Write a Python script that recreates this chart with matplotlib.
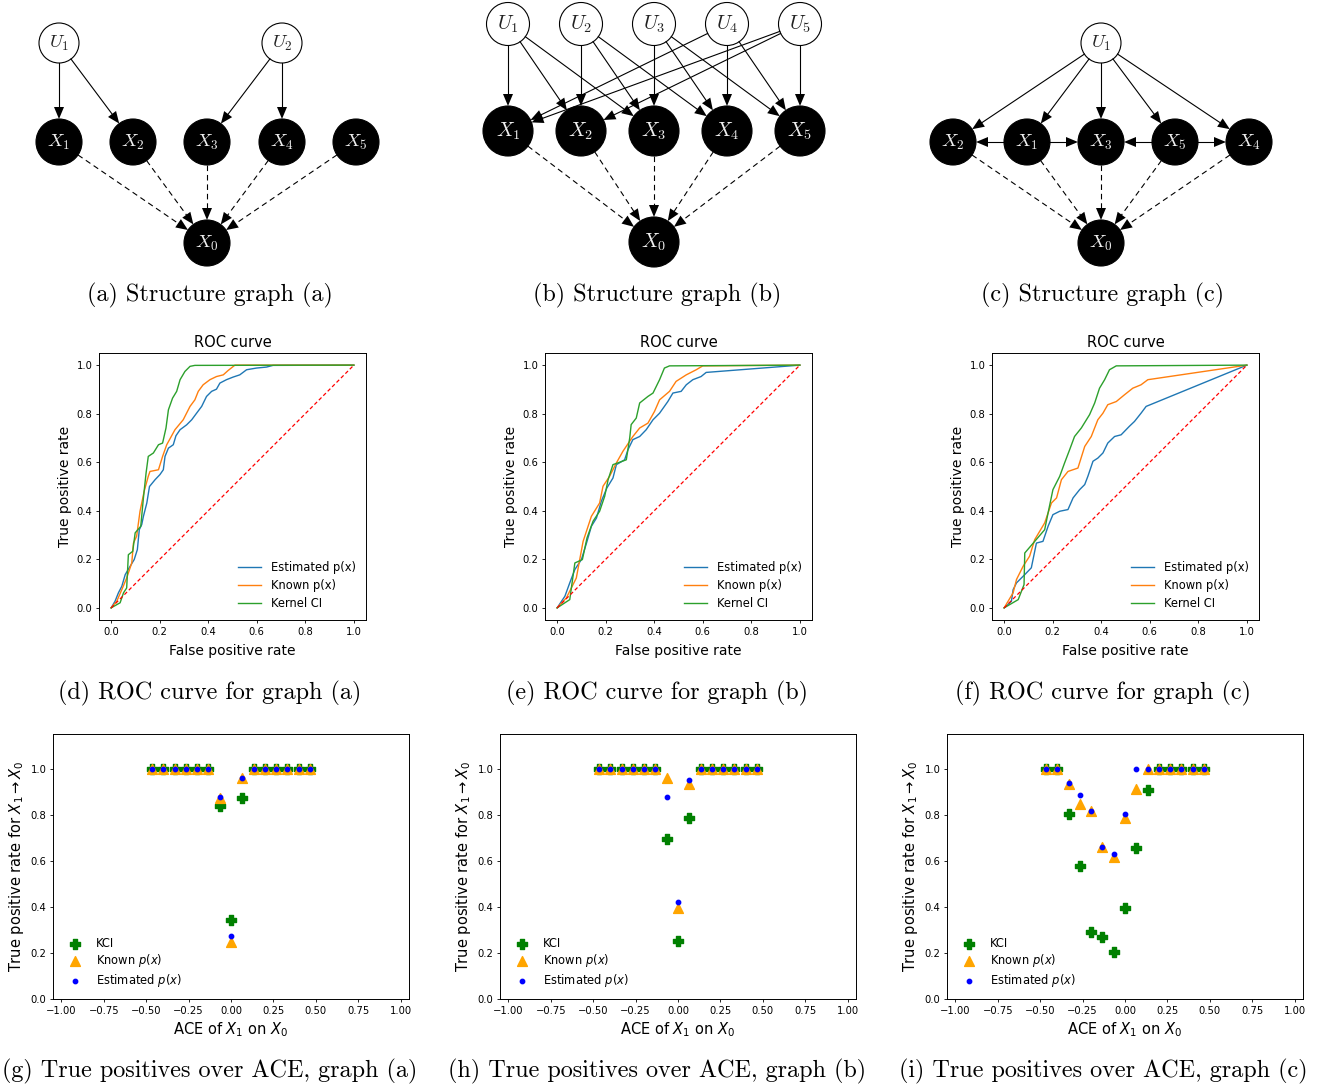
import matplotlib
matplotlib.use("Agg")
import matplotlib.pyplot as plt
import numpy as np
from matplotlib.patches import Circle, Polygon

W, H = 1322, 1086

# ---------------- structure graphs ----------------
graph_a_nodes = {"U1": (59, 43), "U2": (282, 43),
                 "X1": (59, 142), "X2": (133, 142), "X3": (207, 142),
                 "X4": (282, 142), "X5": (356, 142), "X0": (207, 243)}
graph_a_solid = [("U1", "X1"), ("U1", "X2"), ("U2", "X3"), ("U2", "X4")]
graph_a_dashed = [("X1", "X0"), ("X2", "X0"), ("X3", "X0"), ("X4", "X0"), ("X5", "X0")]

graph_b_nodes = {"U1": (508, 24), "U2": (581, 24), "U3": (654, 24), "U4": (727, 24), "U5": (800, 24),
                 "X1": (508, 131), "X2": (581, 131), "X3": (654, 131), "X4": (727, 131),
                 "X5": (800, 131), "X0": (654, 242)}
graph_b_solid = [("U1", "X1"), ("U1", "X2"), ("U1", "X3"),
                 ("U2", "X2"), ("U2", "X3"), ("U2", "X4"),
                 ("U3", "X3"), ("U3", "X4"), ("U3", "X5"),
                 ("U4", "X4"), ("U4", "X5"), ("U4", "X1"),
                 ("U5", "X5"), ("U5", "X1"), ("U5", "X2")]
graph_b_dashed = [("X1", "X0"), ("X2", "X0"), ("X3", "X0"), ("X4", "X0"), ("X5", "X0")]

graph_c_nodes = {"U1": (1101, 43),
                 "X2": (953, 142), "X1": (1027, 142), "X3": (1101, 142),
                 "X5": (1175, 142), "X4": (1249, 142), "X0": (1101, 243)}
graph_c_solid = [("U1", "X2"), ("U1", "X1"), ("U1", "X3"), ("U1", "X5"), ("U1", "X4"),
                 ("X1", "X2"), ("X1", "X3"), ("X5", "X3"), ("X5", "X4")]
graph_c_dashed = [("X2", "X0"), ("X1", "X0"), ("X3", "X0"), ("X5", "X0"), ("X4", "X0")]

# ---------------- ROC curves (fpr, tpr) ----------------
roc_a_est_fpr = [0, 0.016, 0.030, 0.044, 0.058, 0.078, 0.095, 0.108, 0.116, 0.126, 0.133, 0.147, 0.158,
                 0.181, 0.201, 0.215, 0.222, 0.236, 0.256, 0.267, 0.284, 0.311, 0.332, 0.352, 0.373,
                 0.393, 0.414, 0.434, 0.448, 0.475, 0.503, 0.530, 0.558, 0.599, 0.640, 0.667, 1.0]
roc_a_est_tpr = [0, 0.027, 0.062, 0.089, 0.137, 0.171, 0.199, 0.240, 0.322, 0.343, 0.377, 0.432, 0.500,
                 0.528, 0.549, 0.569, 0.624, 0.658, 0.672, 0.709, 0.734, 0.754, 0.775, 0.802, 0.830,
                 0.871, 0.892, 0.901, 0.926, 0.940, 0.951, 0.960, 0.981, 0.988, 0.992, 0.999, 1.0]
roc_a_known_fpr = [0, 0.023, 0.044, 0.064, 0.085, 0.092, 0.105, 0.119, 0.136, 0.153, 0.160, 0.195, 0.212,
                   0.229, 0.263, 0.297, 0.325, 0.345, 0.359, 0.379, 0.407, 0.434, 0.462, 0.482, 0.510, 1.0]
roc_a_known_tpr = [0, 0.027, 0.075, 0.123, 0.185, 0.267, 0.295, 0.398, 0.480, 0.542, 0.562, 0.569, 0.624,
                   0.672, 0.734, 0.775, 0.830, 0.857, 0.892, 0.919, 0.940, 0.953, 0.960, 0.978, 1.0, 1.0]
roc_a_kci_fpr = [0, 0.037, 0.051, 0.064, 0.071, 0.089, 0.099, 0.122, 0.133, 0.144, 0.153, 0.174, 0.195,
                 0.212, 0.226, 0.236, 0.253, 0.270, 0.284, 0.304, 0.325, 0.345, 1.0]
roc_a_kci_tpr = [0, 0.021, 0.062, 0.082, 0.219, 0.233, 0.309, 0.336, 0.453, 0.556, 0.624, 0.638, 0.672,
                 0.679, 0.741, 0.816, 0.864, 0.892, 0.940, 0.974, 0.995, 0.999, 1.0]

roc_b_est_fpr = [0, 0.032, 0.052, 0.073, 0.100, 0.121, 0.141, 0.162, 0.182, 0.205, 0.230, 0.244, 0.278,
                 0.292, 0.312, 0.340, 0.367, 0.395, 0.422, 0.456, 0.477, 0.511, 0.532, 0.559, 0.593, 0.614, 1.0]
roc_b_est_tpr = [0, 0.048, 0.103, 0.158, 0.199, 0.267, 0.336, 0.370, 0.439, 0.494, 0.535, 0.590, 0.610,
                 0.652, 0.693, 0.706, 0.734, 0.775, 0.802, 0.850, 0.885, 0.892, 0.919, 0.940, 0.953, 0.970, 1.0]
roc_b_known_fpr = [0, 0.038, 0.079, 0.107, 0.141, 0.175, 0.189, 0.216, 0.244, 0.271, 0.312, 0.340, 0.374,
                   0.401, 0.422, 0.463, 0.490, 0.532, 0.573, 0.600, 1.0]
roc_b_known_tpr = [0, 0.041, 0.123, 0.274, 0.377, 0.432, 0.501, 0.542, 0.597, 0.645, 0.706, 0.741, 0.761,
                   0.809, 0.857, 0.892, 0.933, 0.960, 0.981, 0.997, 1.0]
roc_b_kci_fpr = [0, 0.052, 0.073, 0.104, 0.123, 0.148, 0.175, 0.196, 0.210, 0.230, 0.285, 0.299, 0.305,
                 0.326, 0.340, 0.374, 0.395, 0.422, 0.442, 0.463, 1.0]
roc_b_kci_tpr = [0, 0.034, 0.185, 0.199, 0.288, 0.357, 0.398, 0.460, 0.528, 0.590, 0.610, 0.700, 0.755,
                 0.782, 0.844, 0.871, 0.885, 0.940, 0.988, 0.997, 1.0]

roc_c_est_fpr = [0, 0.030, 0.037, 0.051, 0.085, 0.112, 0.119, 0.133, 0.160, 0.181, 0.201, 0.229, 0.263,
                 0.284, 0.311, 0.332, 0.345, 0.366, 0.386, 0.407, 0.427, 0.455, 0.482, 0.516, 0.537,
                 0.564, 0.585, 1.0]
roc_c_est_tpr = [0, 0.027, 0.075, 0.103, 0.137, 0.165, 0.199, 0.267, 0.274, 0.336, 0.384, 0.398, 0.405,
                 0.453, 0.487, 0.508, 0.542, 0.604, 0.617, 0.638, 0.679, 0.706, 0.713, 0.748, 0.768,
                 0.802, 0.830, 1.0]
roc_c_known_fpr = [0, 0.037, 0.051, 0.078, 0.105, 0.126, 0.167, 0.195, 0.216, 0.236, 0.263, 0.304, 0.332,
                   0.359, 0.386, 0.407, 0.427, 0.462, 0.496, 0.530, 0.564, 0.592, 1.0]
roc_c_known_tpr = [0, 0.062, 0.117, 0.171, 0.213, 0.281, 0.350, 0.432, 0.453, 0.528, 0.562, 0.576, 0.665,
                   0.706, 0.775, 0.802, 0.837, 0.850, 0.878, 0.905, 0.919, 0.940, 1.0]
roc_c_kci_fpr = [0, 0.058, 0.082, 0.085, 0.126, 0.167, 0.181, 0.201, 0.229, 0.249, 0.270, 0.290, 0.318,
                 0.352, 0.373, 0.393, 0.414, 0.434, 0.462, 1.0]
roc_c_kci_tpr = [0, 0.034, 0.096, 0.226, 0.274, 0.322, 0.391, 0.487, 0.542, 0.597, 0.652, 0.706, 0.741,
                 0.796, 0.844, 0.905, 0.940, 0.981, 0.997, 1.0]

# ---------------- true positives over ACE ----------------
ace = [-0.467, -0.4, -0.333, -0.267, -0.2, -0.133, -0.067, 0.0, 0.067, 0.133, 0.2, 0.267, 0.333, 0.4, 0.467]

tp_a_kci = [1, 1, 1, 1, 1, 1, 0.838, 0.341, 0.871, 1, 1, 1, 1, 1, 1]
tp_a_known = [1, 1, 1, 1, 1, 1, 0.874, 0.246, 0.957, 1, 1, 1, 1, 1, 1]
tp_a_est = [1, 1, 1, 1, 1, 1, 0.878, 0.272, 0.958, 1, 1, 1, 1, 1, 1]

tp_b_kci = [1, 1, 1, 1, 1, 1, 0.694, 0.251, 0.784, 1, 1, 1, 1, 1, 1]
tp_b_known = [1, 1, 1, 1, 1, 1, 0.958, 0.396, 0.933, 1, 1, 1, 1, 1, 1]
tp_b_est = [1, 1, 1, 1, 1, 1, 0.878, 0.423, 0.951, 1, 1, 1, 1, 1, 1]

tp_c_kci = [1, 1, 0.801, 0.577, 0.291, 0.268, 0.204, 0.396, 0.654, 0.906, 1, 1, 1, 1, 1]
tp_c_known = [1, 1, 0.932, 0.846, 0.816, 0.658, 0.617, 0.787, 0.912, 1, 1, 1, 1, 1, 1]
tp_c_est = [1, 1, 0.936, 0.886, 0.816, 0.661, 0.630, 0.803, 1.0, 1, 1, 1, 1, 1, 1]

ace_ticks = [-1, -0.75, -0.5, -0.25, 0, 0.25, 0.5, 0.75, 1.0]
rate_ticks = [0, 0.2, 0.4, 0.6, 0.8, 1.0]

top_captions = ["(a) Structure graph (a)", "(b) Structure graph (b)", "(c) Structure graph (c)"]
mid_captions = ["(d) ROC curve for graph (a)", "(e) ROC curve for graph (b)", "(f) ROC curve for graph (c)"]
bot_captions = ["(g) True positives over ACE, graph (a)", "(h) True positives over ACE, graph (b)",
                "(i) True positives over ACE, graph (c)"]

fig = plt.figure(figsize=(W / 100, H / 100), dpi=100)
bg = fig.add_axes([0, 0, 1, 1], zorder=0)
bg.set_xlim(0, W)
bg.set_ylim(H, 0)
bg.axis("off")

HEAD_L, HEAD_W = 12, 10


def draw_edge(ax, p, q, r0, r1, dashed):
    p = np.array(p, float)
    q = np.array(q, float)
    d = (q - p) / np.hypot(*(q - p))
    n = np.array([-d[1], d[0]])
    start = p + d * r0
    tip = q - d * r1
    base = tip - d * HEAD_L
    ls = (0, (5, 3.5)) if dashed else "-"
    ax.plot([start[0], base[0] + d[0]], [start[1], base[1] + d[1]], color="k", lw=0.8, ls=ls)
    ax.add_patch(Polygon([tip, base + n * HEAD_W / 2, base - n * HEAD_W / 2], closed=True,
                         facecolor="k", edgecolor="none"))


def draw_graph(ax, nodes, solid, dashed, ru, rx, fs):
    def rad(name):
        return ru if name.startswith("U") else rx
    for a, b in solid:
        draw_edge(ax, nodes[a], nodes[b], rad(a), rad(b), False)
    for a, b in dashed:
        draw_edge(ax, nodes[a], nodes[b], rad(a), rad(b), True)
    for name, (x, y) in nodes.items():
        lab = r"$%s_%s$" % (name[0], name[1])
        if name.startswith("U"):
            ax.add_patch(Circle((x, y), ru, facecolor="white", edgecolor="k", lw=0.8))
            ax.text(x, y, lab, ha="center", va="center", fontsize=fs, color="#222222", math_fontfamily="cm")
        else:
            ax.add_patch(Circle((x, y), rx, facecolor="black", edgecolor="k", lw=0.8))
            ax.text(x, y, lab, ha="center", va="center", fontsize=fs, color="#eeeeee", math_fontfamily="cm")


draw_graph(bg, graph_a_nodes, graph_a_solid, graph_a_dashed, 20, 23, 13.5)
draw_graph(bg, graph_b_nodes, graph_b_solid, graph_b_dashed, 21.5, 25, 14.5)
draw_graph(bg, graph_c_nodes, graph_c_solid, graph_c_dashed, 20, 23, 13.5)

centers = [210, 657, 1103]
for cx, t1, t2, t3 in zip(centers, top_captions, mid_captions, bot_captions):
    bg.text(cx, 295, t1, ha="center", va="center", fontsize=17.4, family="cmr10")
    bg.text(cx, 693, t2, ha="center", va="center", fontsize=17.4, family="cmr10")
    bg.text(cx, 1071, t3, ha="center", va="center", fontsize=17.4, family="cmr10")


def px_axes(left, top, width, height):
    return fig.add_axes([left / W, 1 - (top + height) / H, width / W, height / H], zorder=2)


def style(ax):
    ax.tick_params(labelsize=7.2, length=2.4, width=0.6, pad=2.4)
    for s in ax.spines.values():
        s.set_linewidth(0.7)


roc_sets = [
    (roc_a_est_fpr, roc_a_est_tpr, roc_a_known_fpr, roc_a_known_tpr, roc_a_kci_fpr, roc_a_kci_tpr),
    (roc_b_est_fpr, roc_b_est_tpr, roc_b_known_fpr, roc_b_known_tpr, roc_b_kci_fpr, roc_b_kci_tpr),
    (roc_c_est_fpr, roc_c_est_tpr, roc_c_known_fpr, roc_c_known_tpr, roc_c_kci_fpr, roc_c_kci_tpr),
]
for left, (ef, et, kf, kt, cf, ct) in zip([99, 545, 992], roc_sets):
    ax = px_axes(left, 353, 267, 267)
    ax.plot(ef, et, color="tab:blue", lw=1.0, label="Estimated p(x)")
    ax.plot(kf, kt, color="tab:orange", lw=1.0, label="Known p(x)")
    ax.plot(cf, ct, color="tab:green", lw=1.0, label="Kernel CI")
    ax.plot([0, 1], [0, 1], color="red", ls=(0, (3, 2)), lw=0.9)
    ax.set_xticks(rate_ticks)
    ax.set_yticks(rate_ticks)
    ax.set_title("ROC curve", fontsize=10.5, pad=4)
    ax.set_xlabel("False positive rate", fontsize=10, labelpad=5)
    ax.set_ylabel("True positive rate", fontsize=10, labelpad=3)
    ax.legend(loc="lower right", fontsize=8.3, frameon=False, handlelength=2.0, labelspacing=0.42)
    style(ax)

tp_sets = [(tp_a_kci, tp_a_known, tp_a_est), (tp_b_kci, tp_b_known, tp_b_est), (tp_c_kci, tp_c_known, tp_c_est)]
for left, (kci, known, est) in zip([53, 500, 947], tp_sets):
    ax = px_axes(left, 734, 356, 265)
    ax.scatter(ace, kci, marker="P", s=55, color="green", label="KCI")
    ax.scatter(ace, known, marker="^", s=50, color="orange", label=r"Known $p(x)$")
    ax.scatter(ace, est, marker="o", s=10, color="blue", label=r"Estimated $p(x)$")
    ax.set_xlim(-1.05, 1.05)
    ax.set_ylim(0, 1.15)
    ax.set_xticks(ace_ticks)
    ax.set_xticklabels([("%.2f" % v).replace("-", "\u2212") for v in ace_ticks])
    ax.set_yticks(rate_ticks)
    ax.set_xlabel(r"ACE of $X_1$ on $X_0$", fontsize=10.5, labelpad=3)
    ax.set_ylabel(r"True positive rate for $X_1 \rightarrow X_0$", fontsize=10.5, labelpad=3)
    ax.legend(loc="lower left", fontsize=8.3, frameon=False, handlelength=2.0, labelspacing=0.22)
    style(ax)

fig.savefig("out.png", dpi=100)
